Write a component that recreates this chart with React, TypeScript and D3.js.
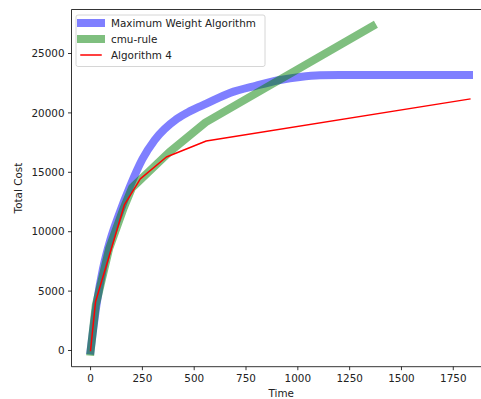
import React from "react";
import * as d3 from "d3";

const xTicks = [0, 250, 500, 750, 1000, 1250, 1500, 1750];
const yTicks = [0, 5000, 10000, 15000, 20000, 25000];

const mwaTime = [0, 30, 60, 95, 134, 190, 250, 309, 417, 480, 561, 672, 800, 914, 1010, 1107, 1200, 1826];
const mwaCost = [0, 4000, 6900, 9300, 11300, 13800, 16100, 17700, 19500, 20150, 20800, 21680, 22300, 22770, 23030, 23170, 23190, 23190];

const cmuTime = [0, 25, 90, 160, 200, 380, 555, 1360];
const cmuCost = [-100, 3800, 8600, 12000, 13700, 16700, 19200, 27300];

const algTime = [0, 24, 163, 240, 366, 558, 1830];
const algCost = [0, 4100, 12250, 14450, 16290, 17640, 21170];

const series = [
  { name: "Maximum Weight Algorithm", t: mwaTime, v: mwaCost, color: "#0000ff", opacity: 0.5, width: 8, smooth: true },
  { name: "cmu-rule", t: cmuTime, v: cmuCost, color: "#008000", opacity: 0.5, width: 8, smooth: false },
  { name: "Algorithm 4", t: algTime, v: algCost, color: "#ff0000", opacity: 1, width: 1.5, smooth: false },
];

const W = 481;
const H = 399;
const left = 71.5;
const right = 491;
const top = 9.5;
const bottom = 366.7;

export default function App() {
  const x = d3.scaleLinear().domain([-92, 1932]).range([left, right]);
  const y = d3.scaleLinear().domain([-1364, 28704]).range([bottom, top]);
  const font = "'DejaVu Sans', sans-serif";
  const fs = 10.4;
  const txt = "#222";

  return (
    <svg width={W} height={H} style={{ position: "absolute", left: 0, top: 0, background: "#fff" }}>
      <defs>
        <clipPath id="plotclip">
          <rect x={left} y={top} width={right - left} height={bottom - top} />
        </clipPath>
      </defs>
      <rect x={0} y={0} width={W} height={H} fill="#fff" />
      <g clipPath="url(#plotclip)">
        {series.map((s) => {
          const pts: [number, number][] = s.t.map((t, i) => [t, s.v[i]]);
          const line = d3
            .line<[number, number]>()
            .x((d) => x(d[0]))
            .y((d) => y(d[1]))
            .curve(s.smooth ? d3.curveMonotoneX : d3.curveLinear);
          return (
            <path
              key={s.name}
              d={line(pts) || ""}
              fill="none"
              stroke={s.color}
              strokeOpacity={s.opacity}
              strokeWidth={s.width}
              strokeLinecap="square"
              strokeLinejoin="round"
            />
          );
        })}
      </g>
      {/* spines */}
      <line x1={left} x2={left} y1={top} y2={bottom} stroke="#000" strokeWidth={0.8} />
      <line x1={left} x2={right} y1={bottom} y2={bottom} stroke="#000" strokeWidth={0.8} />
      <line x1={left} x2={right} y1={top} y2={top} stroke="#000" strokeWidth={0.8} />
      {/* x ticks */}
      {xTicks.map((t) => (
        <g key={"x" + t}>
          <line x1={x(t)} x2={x(t)} y1={bottom} y2={bottom + 3.5} stroke="#000" strokeWidth={0.8} />
          <text x={x(t)} y={bottom + 7} dy="0.75em" textAnchor="middle" fontFamily={font} fontSize={fs} fill={txt}>
            {t}
          </text>
        </g>
      ))}
      {/* y ticks */}
      {yTicks.map((t) => (
        <g key={"y" + t}>
          <line x1={left - 3.5} x2={left} y1={y(t)} y2={y(t)} stroke="#000" strokeWidth={0.8} />
          <text x={left - 7} y={y(t)} dy="0.35em" textAnchor="end" fontFamily={font} fontSize={fs} fill={txt}>
            {t}
          </text>
        </g>
      ))}
      <text x={(left + right) / 2} y={393.3} dy="0.35em" textAnchor="middle" fontFamily={font} fontSize={fs} fill={txt}>
        Time
      </text>
      <text
        transform={`translate(18.5, ${(top + bottom) / 2}) rotate(-90)`}
        dy="0.35em"
        textAnchor="middle"
        fontFamily={font}
        fontSize={fs}
        fill={txt}
      >
        Total Cost
      </text>
      {/* legend */}
      <rect x={76} y={15} width={189} height={51.5} rx={2} fill="#fff" fillOpacity={0.8} stroke="#ccc" strokeWidth={0.8} />
      {series.map((s, i) => {
        const cy = 23 + i * 16;
        return (
          <g key={"lg" + s.name}>
            <line
              x1={81}
              x2={101}
              y1={cy}
              y2={cy}
              stroke={s.color}
              strokeOpacity={s.opacity}
              strokeWidth={s.width}
              strokeLinecap="square"
            />
            <text x={111} y={cy} dy="0.35em" fontFamily={font} fontSize={fs} fill={txt}>
              {s.name}
            </text>
          </g>
        );
      })}
    </svg>
  );
}
